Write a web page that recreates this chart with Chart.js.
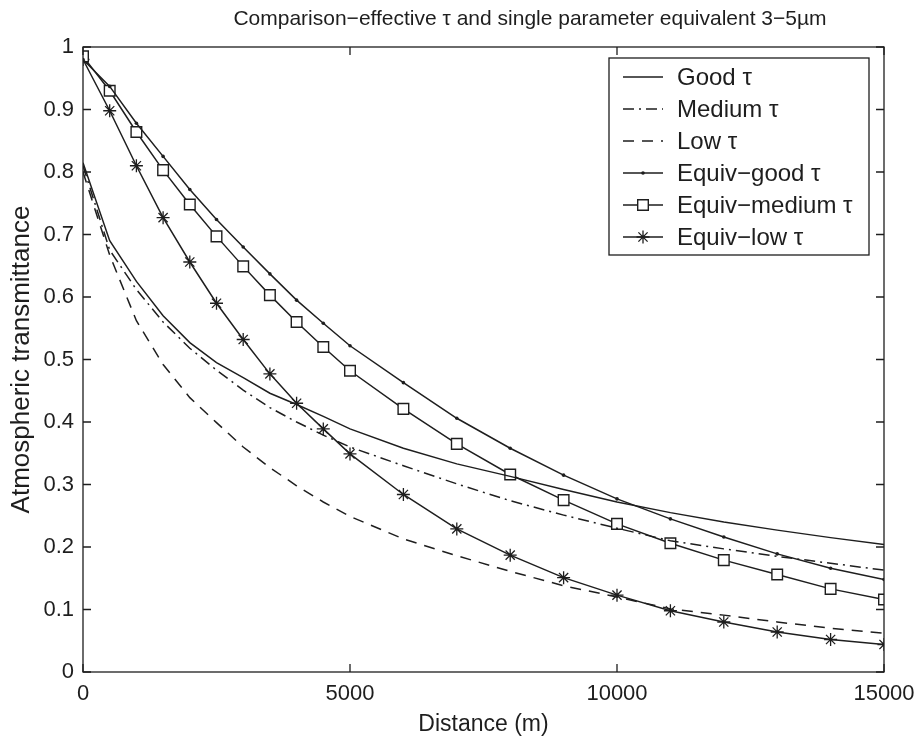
<!DOCTYPE html>
<html>
<head>
<meta charset="utf-8">
<script src="https://cdn.jsdelivr.net/npm/chart.js@4.4.0/dist/chart.umd.min.js"></script>
<style>
  body { margin: 0; background: #fff; }
  #wrap { width: 924px; height: 741px; }
</style>
</head>
<body>
<div id="wrap"><canvas id="chart"></canvas></div>
<script>
// values
const distance = [0, 500, 1000, 1500, 2000, 2500, 3000, 3500, 4000, 4500, 5000,
    6000, 7000, 8000, 9000, 10000, 11000, 12000, 13000, 14000, 15000];

const goodTau = [0.815, 0.69, 0.625, 0.57, 0.527, 0.495, 0.471, 0.446, 0.428, 0.409, 0.389,
    0.358, 0.333, 0.313, 0.292, 0.272, 0.255, 0.24, 0.227, 0.215, 0.204];
const mediumTau = [0.81, 0.675, 0.612, 0.56, 0.518, 0.483, 0.451, 0.423, 0.4, 0.379, 0.36,
    0.33, 0.301, 0.274, 0.251, 0.23, 0.21, 0.197, 0.185, 0.174, 0.163];
const lowTau = [0.80, 0.667, 0.562, 0.492, 0.439, 0.399, 0.36, 0.327, 0.298, 0.272, 0.249,
    0.213, 0.186, 0.161, 0.138, 0.12, 0.101, 0.091, 0.08, 0.07, 0.062];
const equivGood = [0.98, 0.937, 0.878, 0.825, 0.772, 0.724, 0.68, 0.637, 0.595, 0.558, 0.522,
    0.463, 0.406, 0.358, 0.315, 0.277, 0.245, 0.216, 0.189, 0.166, 0.148];
const equivMedium = [0.985, 0.93, 0.864, 0.803, 0.748, 0.697, 0.649, 0.603, 0.56, 0.52, 0.482,
    0.421, 0.365, 0.316, 0.275, 0.237, 0.206, 0.179, 0.156, 0.133, 0.116];
const equivLow = [0.98, 0.898, 0.81, 0.727, 0.656, 0.59, 0.532, 0.477, 0.43, 0.389, 0.349,
    0.284, 0.229, 0.187, 0.151, 0.123, 0.098, 0.08, 0.064, 0.052, 0.044];

const xTicks = [0, 5000, 10000, 15000];
const titleText = 'Comparison\u2212effective \u03c4 and single parameter equivalent 3\u22125\u00b5m';

const ink = '#1e1e1e';
const fontFamily = '"Liberation Sans", Arial, Helvetica, sans-serif';

function series(values) {
    return values.map((v, i) => ({ x: distance[i], y: v }));
}

// common look of every line, matlab style
function lineSet(label, values, extra) {
    return Object.assign({
        label: label,
        data: series(values),
        borderColor: ink,
        backgroundColor: ink,
        borderWidth: 1.5,
        pointRadius: 0,
        pointHoverRadius: 0,
        tension: 0,
        fill: false
    }, extra);
}

const datasets = [
    lineSet('Good \u03c4', goodTau, {}),
    lineSet('Medium \u03c4', mediumTau, { borderDash: [11, 5, 2, 5] }),
    lineSet('Low \u03c4', lowTau, { borderDash: [11, 8] }),
    lineSet('Equiv\u2212good \u03c4', equivGood, { pointStyle: 'circle', pointRadius: 1.8, pointBorderWidth: 0 }),
    lineSet('Equiv\u2212medium \u03c4', equivMedium, { pointStyle: 'rect', pointRadius: 7.5, pointBackgroundColor: '#fff', pointBorderWidth: 1.4 }),
    lineSet('Equiv\u2212low \u03c4', equivLow, { pointStyle: 'star', pointRadius: 6.5, pointBorderWidth: 1.3 })
];

// legend marker, same shapes as the plotted points
function legendMarker(ctx, ds, x, y) {
    const r = ds.pointRadius;
    ctx.beginPath();
    if (ds.pointStyle === 'rect') {
        const s = r * Math.SQRT1_2;
        ctx.rect(x - s, y - s, 2 * s, 2 * s);
        ctx.fill();
        ctx.stroke();
    } else if (ds.pointStyle === 'star') {
        for (let k = 0; k < 4; k++) {
            const ang = k * Math.PI / 4;
            ctx.moveTo(x - r * Math.cos(ang), y - r * Math.sin(ang));
            ctx.lineTo(x + r * Math.cos(ang), y + r * Math.sin(ang));
        }
        ctx.stroke();
    } else {
        ctx.arc(x, y, r, 0, Math.PI * 2);
        ctx.fill();
    }
}

// box around the plot with inward ticks, title and the legend box
const frame = {
    id: 'frame',
    afterDatasetsDraw(chart) {
        const ctx = chart.ctx;
        const a = chart.chartArea;
        const xs = chart.scales.x, ys = chart.scales.y;
        ctx.save();
        ctx.strokeStyle = ink;
        ctx.lineWidth = 1.3;
        ctx.strokeRect(a.left, a.top, a.right - a.left, a.bottom - a.top);
        ctx.beginPath();
        xs.ticks.forEach(t => {
            const px = xs.getPixelForValue(t.value);
            ctx.moveTo(px, a.bottom); ctx.lineTo(px, a.bottom - 8);
            ctx.moveTo(px, a.top); ctx.lineTo(px, a.top + 8);
        });
        ys.ticks.forEach(t => {
            const py = ys.getPixelForValue(t.value);
            ctx.moveTo(a.left, py); ctx.lineTo(a.left + 8, py);
            ctx.moveTo(a.right, py); ctx.lineTo(a.right - 8, py);
        });
        ctx.stroke();
        ctx.restore();
    },
    afterDraw(chart) {
        const ctx = chart.ctx;
        ctx.save();
        // title
        ctx.fillStyle = ink;
        ctx.font = '21px ' + fontFamily;
        ctx.textAlign = 'center';
        ctx.textBaseline = 'middle';
        ctx.fillText(titleText, 530, 19);

        // legend
        const box = { left: 609, top: 58, right: 869, bottom: 255 };
        ctx.fillStyle = '#fff';
        ctx.fillRect(box.left, box.top, box.right - box.left, box.bottom - box.top);
        ctx.strokeStyle = ink;
        ctx.lineWidth = 1.3;
        ctx.strokeRect(box.left, box.top, box.right - box.left, box.bottom - box.top);
        ctx.font = '24px ' + fontFamily;
        ctx.textAlign = 'left';
        chart.data.datasets.forEach((ds, i) => {
            const y = 77 + i * 32;
            ctx.strokeStyle = ds.borderColor;
            ctx.lineWidth = ds.borderWidth;
            ctx.setLineDash(ds.borderDash || []);
            ctx.beginPath();
            ctx.moveTo(623, y);
            ctx.lineTo(663, y);
            ctx.stroke();
            ctx.setLineDash([]);
            if (ds.pointRadius > 0) {
                ctx.fillStyle = ds.pointBackgroundColor || ds.backgroundColor;
                ctx.strokeStyle = ds.borderColor;
                ctx.lineWidth = ds.pointBorderWidth || 1;
                legendMarker(ctx, ds, 643, y);
            }
            ctx.fillStyle = ink;
            ctx.fillText(ds.label, 677, y + 1);
        });
        ctx.restore();
    }
};

new Chart(document.getElementById('chart').getContext('2d'), {
    type: 'line',
    data: { datasets: datasets },
    plugins: [frame],
    options: {
        responsive: true,
        maintainAspectRatio: false,
        animation: false,
        events: [],
        layout: { padding: { top: 47, right: 40, left: 0, bottom: 0 } },
        plugins: {
            legend: { display: false },
            title: { display: false },
            tooltip: { enabled: false }
        },
        scales: {
            x: {
                type: 'linear',
                min: 0,
                max: 15000,
                afterBuildTicks: scale => { scale.ticks = xTicks.map(v => ({ value: v })); },
                afterFit: scale => { scale.height = 69; },
                grid: { display: false, drawTicks: false },
                border: { display: false },
                ticks: {
                    color: ink,
                    padding: 9,
                    maxRotation: 0,
                    font: { size: 22, family: fontFamily },
                    callback: v => String(v)
                },
                title: {
                    display: true,
                    text: 'Distance (m)',
                    color: ink,
                    padding: { top: 0, bottom: 3 },
                    font: { size: 23, family: fontFamily }
                }
            },
            y: {
                min: 0,
                max: 1,
                afterFit: scale => { scale.width = 83; },
                grid: { display: false, drawTicks: false },
                border: { display: false },
                ticks: {
                    stepSize: 0.1,
                    color: ink,
                    padding: 9,
                    font: { size: 22, family: fontFamily },
                    callback: v => String(Number(v.toFixed(1)))
                },
                title: {
                    display: true,
                    text: 'Atmospheric transmittance',
                    color: ink,
                    padding: { top: 6, bottom: 0 },
                    font: { size: 26, family: fontFamily }
                }
            }
        }
    }
});
</script>
</body>
</html>
